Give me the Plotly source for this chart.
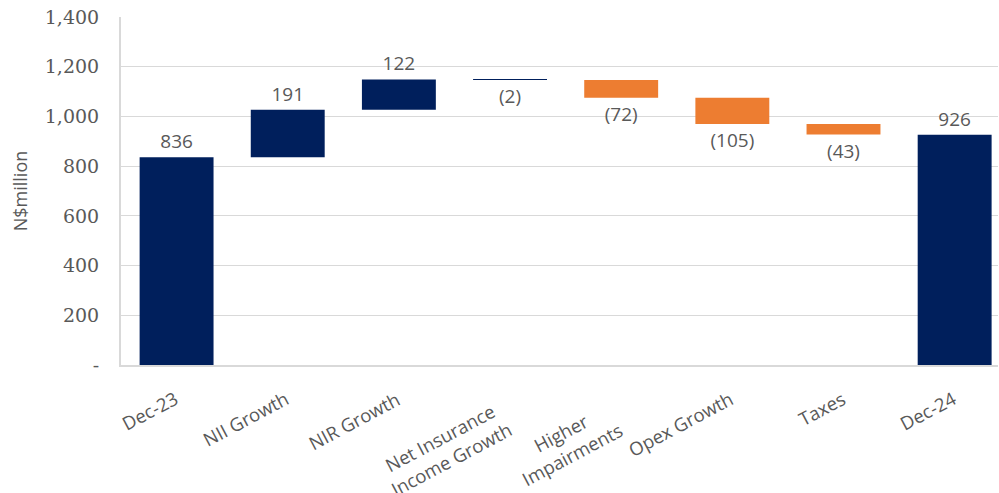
import plotly.graph_objects as go

categories = ["Dec-23", "NII Growth", "NIR Growth", "Net Insurance<br>Income Growth",
              "Higher<br>Impairments", "Opex Growth", "Taxes", "Dec-24"]
values = [836, 191, 122, -2, -72, -105, -43, 926]
is_total = [True, False, False, False, False, False, False, True]
bar_colors = ["#001F5C", "#001F5C", "#001F5C", "#001F5C",
              "#ED7D31", "#ED7D31", "#ED7D31", "#001F5C"]
y_ticks = [0, 200, 400, 600, 800, 1000, 1200, 1400]
y_ticktext = ["-", "200", "400", "600", "800", "1,000", "1,200", "1,400"]

bases = []
running = 0
for v, t in zip(values, is_total):
    if t:
        bases.append(0)
        running = v
    else:
        bases.append(running)
        running += v

labels = [f"{v:,}" if v >= 0 else f"({abs(v):,})" for v in values]

fig = go.Figure(go.Bar(
    x=categories, y=values, base=bases,
    marker=dict(color=bar_colors, line=dict(width=0)),
    text=labels, textposition="outside",
    textfont=dict(family="Open Sans", size=19, color="#595959"),
    cliponaxis=False, constraintext="none",
))

# rotated category labels (centered lines, like the original)
for cat in categories:
    nlines = cat.count("<br>") + 1
    fig.add_annotation(
        x=cat, xref="x", y=0, yref="paper",
        text=cat, showarrow=False, textangle=-28, align="center",
        xanchor="right", yanchor="top",
        xshift=8, yshift=-18 - 10 * (nlines - 1),
        font=dict(family="Open Sans", size=18.5, color="#595959"),
    )

fig.update_layout(
    width=999, height=493,
    margin=dict(l=121, r=1, t=17, b=128),
    plot_bgcolor="white", paper_bgcolor="white",
    bargap=0.335, showlegend=False,
    xaxis=dict(range=[-0.5, 7.39], showticklabels=False,
               showline=True, linecolor="#D9D9D9", linewidth=2, ticks=""),
    yaxis=dict(range=[0, 1400], tickvals=y_ticks, ticktext=y_ticktext,
               tickfont=dict(family="DejaVu Serif", size=19, color="#595959"),
               showgrid=True, gridcolor="#D9D9D9", gridwidth=1,
               showline=True, linecolor="#D9D9D9", linewidth=2, zeroline=False,
               ticks="", ticklabelstandoff=16,
               title=dict(text="N$million", font=dict(family="Open Sans", size=18, color="#595959"),
                          standoff=12)),
)

fig.write_html("out.html")
